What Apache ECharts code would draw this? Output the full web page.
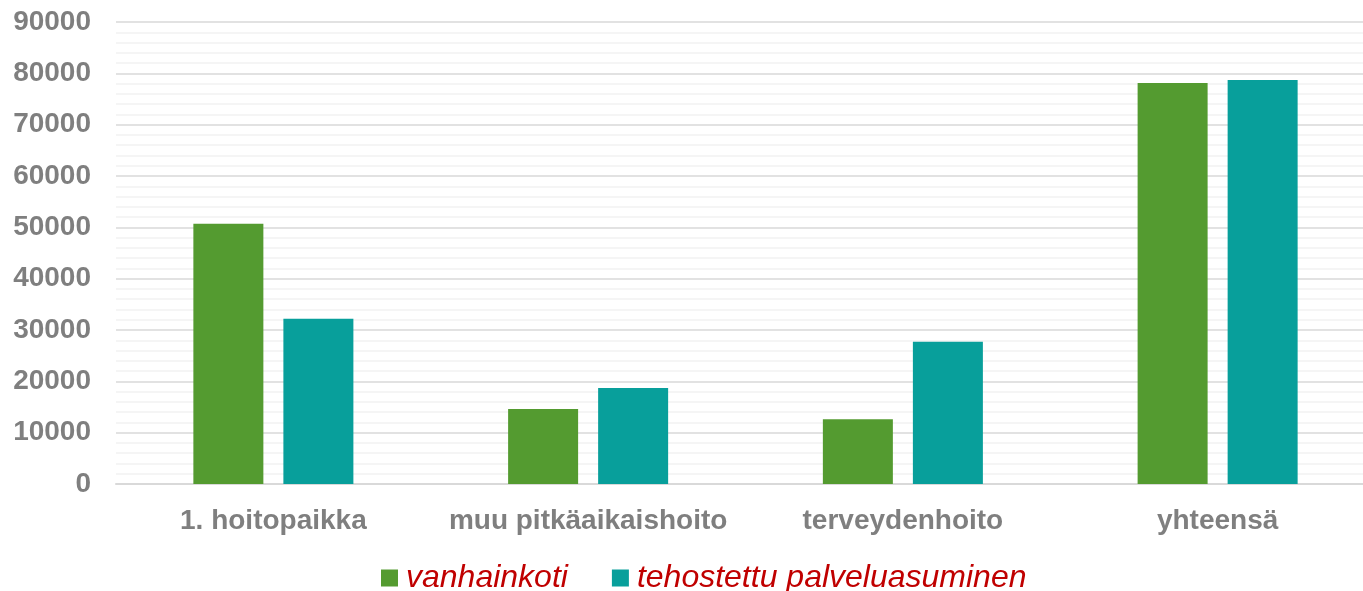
<!DOCTYPE html>
<html><head><meta charset="utf-8">
<script src="https://cdn.jsdelivr.net/npm/echarts@6/dist/echarts.min.js"></script>
<style>html,body{margin:0;padding:0;background:#fff;overflow:hidden}#c{width:1375px;height:591px}</style>
</head><body><div id="c"></div>
<script>
const categories = ['1. hoitopaikka', 'muu pitkäaikaishoito', 'terveydenhoito', 'yhteensä'];
const vanhainkoti = [50700, 14600, 12600, 78100];
const tehostettu = [32200, 18700, 27700, 78700];
const seriesNames = ['vanhainkoti', 'tehostettu palveluasuminen'];

const chart = echarts.init(document.getElementById('c'));
chart.setOption({
  animation: false,
  grid: { left: 116, top: 22, right: 0, height: 462 },
  legend: {
    left: 381, top: 562, padding: 0,
    itemWidth: 17, itemHeight: 17, itemGap: 44,
    icon: 'rect',
    textStyle: { fontFamily: 'Liberation Sans, Arial, sans-serif', fontSize: 32, fontStyle: 'italic', color: '#c00000', padding: [0, 0, 0, 3] },
    data: seriesNames
  },
  xAxis: {
    type: 'category', data: categories,
    axisLine: { show: true, lineStyle: { color: '#d9d9d9', width: 2 } },
    axisTick: { show: false },
    axisLabel: { interval: 0, margin: 23, fontFamily: 'Liberation Sans, Arial, sans-serif', fontWeight: 'bold', fontSize: 28, color: '#7f7f7f' }
  },
  yAxis: {
    type: 'value', min: 0, max: 90000, interval: 10000,
    axisLine: { show: false }, axisTick: { show: false },
    axisLabel: { margin: 25, padding: [3, 0, 0, 0], formatter: v => String(v), fontFamily: 'Liberation Sans, Arial, sans-serif', fontWeight: 'bold', fontSize: 28, color: '#7f7f7f' },
    splitLine: { lineStyle: { color: '#d9d9d9', width: 1.5 } },
    minorTick: { show: false, splitNumber: 5 },
    minorSplitLine: { show: true, lineStyle: { color: '#f2f2f2', width: 1.5 } }
  },
  series: [
    { name: seriesNames[0], type: 'bar', data: vanhainkoti, barWidth: 70, barGap: '28.6%', itemStyle: { color: '#549b30' } },
    { name: seriesNames[1], type: 'bar', data: tehostettu, barWidth: 70, itemStyle: { color: '#089f9b' } }
  ]
});
</script></body></html>
